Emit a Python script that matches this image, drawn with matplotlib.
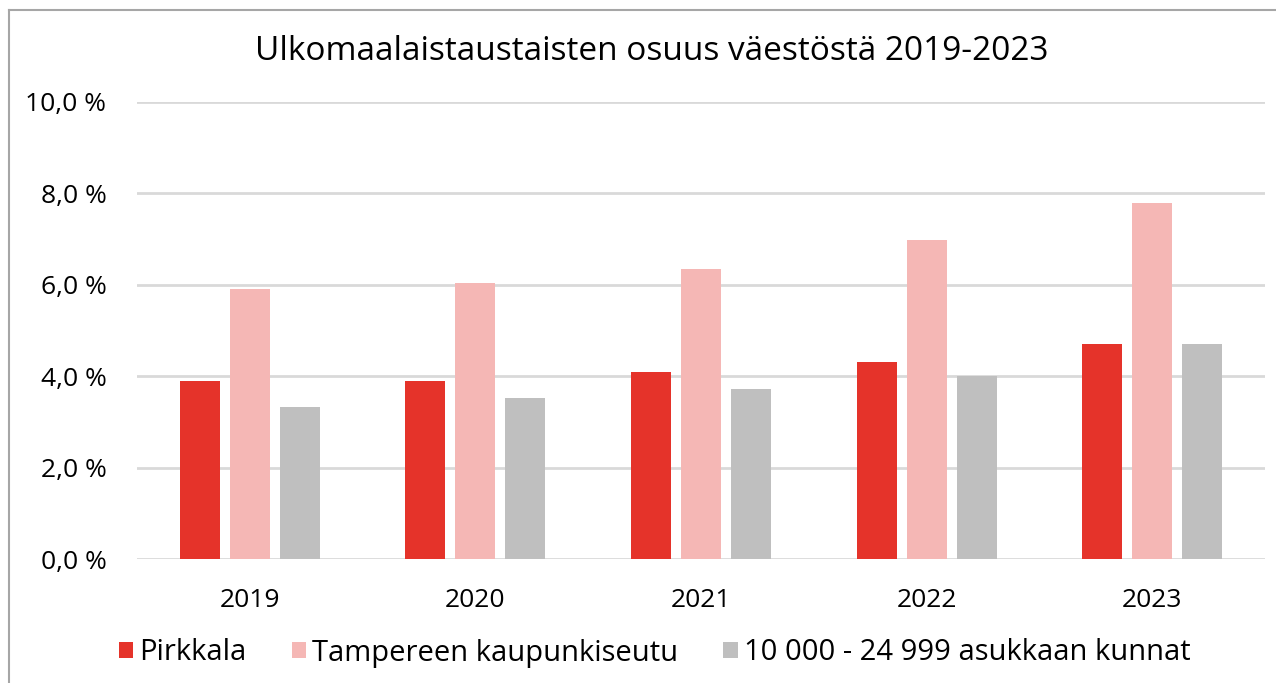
import matplotlib
matplotlib.use("Agg")
import matplotlib.pyplot as plt
from matplotlib.lines import Line2D
from matplotlib.patches import Patch
import numpy as np

years = ["2019", "2020", "2021", "2022", "2023"]
series_names = ["Pirkkala", "Tampereen kaupunkiseutu", "10 000 - 24 999 asukkaan kunnat"]
pirkkala = [3.9, 3.9, 4.1, 4.3, 4.7]
tampere = [5.9, 6.05, 6.35, 6.98, 7.78]
kunnat = [3.33, 3.52, 3.72, 4.0, 4.7]
colors = ["#E5332A", "#F5B7B5", "#BFBFBF"]
yticks = [0, 2, 4, 6, 8, 10]
ytick_labels = ["0,0 %", "2,0 %", "4,0 %", "6,0 %", "8,0 %", "10,0 %"]

FONT = "Open Sans"
W, H = 1276, 683
fig = plt.figure(figsize=(W / 100, H / 100), dpi=100)
fig.patch.set_facecolor("white")

ax = fig.add_axes([137 / W, (H - 559) / H, (1265 - 137) / W, (559 - 102) / H])
x = np.arange(len(years))
bw = 0.177
step = 0.2216
for i, (vals, c) in enumerate(zip([pirkkala, tampere, kunnat], colors)):
    ax.bar(x + (i - 1) * step, vals, width=bw, color=c, zorder=3, label=series_names[i])

ax.set_xlim(-0.5, len(years) - 0.5)
ax.set_ylim(0, 10)
ax.set_yticks(yticks)
ax.set_yticklabels(ytick_labels, fontfamily=FONT, fontsize=19)
ax.set_xticks(x)
ax.set_xticklabels(years, fontfamily=FONT, fontsize=19)
ax.tick_params(axis="both", length=0, colors="black")
ax.tick_params(axis="y", pad=22)
ax.tick_params(axis="x", pad=21)
ax.grid(axis="y", color="#D9D9D9", linewidth=2, zorder=0)
for s in ax.spines.values():
    s.set_visible(False)

fig.text(652 / W, 1 - 52 / H, "Ulkomaalaistaustaisten osuus väestöstä 2019-2023",
         ha="center", va="center", fontfamily=FONT, fontsize=24)

handles = [Patch(facecolor=c, edgecolor="none") for c in colors]
leg = fig.legend(handles, series_names, loc="center",
                 bbox_to_anchor=((122 + 1187) / 2 / W, 1 - 653 / H),
                 ncol=3, frameon=False, handlelength=0.5, handleheight=0.5,
                 handletextpad=0.2, columnspacing=1.55,
                 prop={"family": FONT, "size": 21})

# outer border (top and left)
fig.add_artist(Line2D([8.5 / W, 1], [1 - 9.5 / H, 1 - 9.5 / H], transform=fig.transFigure,
                      color="#A6A6A6", linewidth=1.5))
fig.add_artist(Line2D([8.5 / W, 8.5 / W], [0, 1 - 9.5 / H], transform=fig.transFigure,
                      color="#A6A6A6", linewidth=1.5))

fig.savefig("out.png", dpi=100)
